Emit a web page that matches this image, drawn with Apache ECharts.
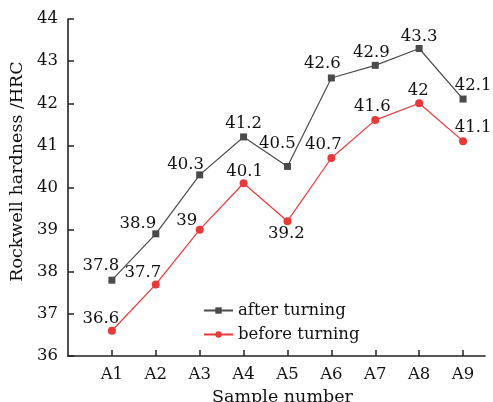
<!DOCTYPE html>
<html><head><meta charset="utf-8">
<script src="https://cdn.jsdelivr.net/npm/echarts@6/dist/echarts.min.js"></script>
<style>html,body{margin:0;padding:0;background:#fff}#c{width:493px;height:402px}</style>
</head><body><div id="c"></div>
<script>
const categories = ['A1','A2','A3','A4','A5','A6','A7','A8','A9'];
const afterTurning = [37.8, 38.9, 40.3, 41.2, 40.5, 42.6, 42.9, 43.3, 42.1];
const beforeTurning = [36.6, 37.7, 39, 40.1, 39.2, 40.7, 41.6, 42, 41.1];
const yTicks = [36, 37, 38, 39, 40, 41, 42, 43, 44];

const FONT = 'DejaVu Serif';
const FS = 16.5;
const NFS = 17.5;
// label offsets (pixels) relative to each point, centred on the marker
const afterLabelOffsets = [[-11,-14],[-18,-10],[-14,-10],[0,-13],[-10,-23],[-9,-14],[-4,-13],[0,-12],[10,-13]];
const beforeLabelOffsets = [[-11,-12],[-13,-12],[-13,-9],[1,-12],[-1,13],[-8,-13],[-3,-13],[-1,-13],[10,-13]];
function build(vals, offs){
  return vals.map((v,i)=>({value:[i+1, v], label:{position:'inside', offset:offs[i]}}));
}
const chart = echarts.init(document.getElementById('c'), null, {renderer:'canvas'});
const idx = categories.map((c,i)=>i+1);
chart.setOption({
  animation:false,
  textStyle:{fontFamily:FONT},
  grid:{left:68, right:8, top:19, bottom:46, containLabel:false, outerBoundsMode:'none'},
  legend:{
    orient:'vertical', left:203, top:302, padding:0, itemWidth:29, itemHeight:8, itemGap:7,
    textStyle:{fontFamily:FONT, fontSize:FS, color:'#111'},
    data:['after turning','before turning']
  },
  xAxis:{
    type:'value', min:0, max:9.5, interval:1,
    name:'Sample number', nameLocation:'middle', nameGap:32,
    nameTextStyle:{fontFamily:FONT, fontSize:NFS, color:'#111', padding:[0,0,0,12]},
    axisLine:{lineStyle:{color:'#222', width:1.6}},
    axisTick:{inside:true, length:6, customValues:idx, lineStyle:{color:'#222', width:1.5}},
    axisLabel:{customValues:idx, margin:10, fontFamily:FONT, fontSize:FS, color:'#111',
      formatter:v=>categories[Math.round(v)-1] || ''},
    splitLine:{show:false}
  },
  yAxis:{
    type:'value', min:36, max:44, interval:1,
    name:'Rockwell hardness /HRC', nameLocation:'middle', nameGap:36,
    nameTextStyle:{fontFamily:FONT, fontSize:NFS, color:'#111', padding:[0,0,0,32]},
    axisLine:{show:true, lineStyle:{color:'#222', width:1.6}},
    axisTick:{show:true, inside:true, length:6, customValues:yTicks, lineStyle:{color:'#222', width:1.5}},
    axisLabel:{customValues:yTicks, margin:10, fontFamily:FONT, fontSize:FS, color:'#111'},
    splitLine:{show:false}
  },
  series:[
    {
      name:'after turning', type:'line', symbol:'rect', symbolSize:7,
      itemStyle:{color:'#4a4a4a'}, lineStyle:{color:'#4a4a4a', width:1.2},
      label:{show:true, fontFamily:FONT, fontSize:FS, color:'#111'},
      data:build(afterTurning, afterLabelOffsets)
    },
    {
      name:'before turning', type:'line', symbol:'circle', symbolSize:8,
      itemStyle:{color:'#e8393a'}, lineStyle:{color:'#e8393a', width:1.2},
      label:{show:true, fontFamily:FONT, fontSize:FS, color:'#111'},
      data:build(beforeTurning, beforeLabelOffsets)
    }
  ]
});
</script></body></html>
